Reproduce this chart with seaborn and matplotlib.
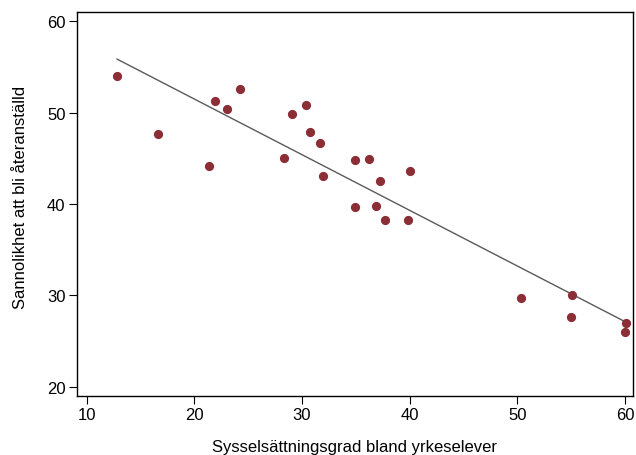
import matplotlib
matplotlib.use("Agg")
import matplotlib.pyplot as plt
import seaborn as sns
import numpy as np
import pandas as pd

# values
sysselsattning = [12.8, 16.6, 21.4, 21.9, 23.0, 24.2, 28.3, 29.1, 30.4, 30.7,
                  31.7, 31.9, 34.9, 34.9, 36.2, 36.9, 37.2, 37.7, 39.8, 40.0,
                  50.3, 55.1, 55.0, 60.1, 60.0]
sannolikhet = [54.0, 47.7, 44.2, 51.3, 50.4, 52.6, 45.0, 49.8, 50.8, 47.9,
               46.7, 43.1, 44.8, 39.7, 44.9, 39.8, 42.5, 38.3, 38.2, 43.6,
               29.7, 30.0, 27.6, 27.0, 26.0]

x_ticks = [10, 20, 30, 40, 50, 60]
y_ticks = [20, 30, 40, 50, 60]

df = pd.DataFrame({'x': sysselsattning, 'y': sannolikhet})

sns.set_style('white')
plt.rcParams['font.family'] = ['Liberation Sans', 'DejaVu Sans']
plt.rcParams['text.color'] = 'black'
plt.rcParams['axes.labelcolor'] = 'black'
plt.rcParams['xtick.color'] = 'black'
plt.rcParams['ytick.color'] = 'black'

fig = plt.figure(figsize=(6.36, 4.56), dpi=100)
ax = fig.add_axes([0.1206, 0.1294, 0.8747, 0.8427])

sns.regplot(data=df, x='x', y='y', ci=None, ax=ax,
            scatter_kws={'color': '#8B2E36', 's': 44, 'alpha': 1, 'linewidths': 0, 'zorder': 3},
            line_kws={'color': '#5a5a5a', 'linewidth': 1.0, 'zorder': 2})

ax.set_xlim(9.07, 60.74)
ax.set_ylim(18.98, 61.05)
ax.set_xticks(x_ticks)
ax.set_yticks(y_ticks)
ax.tick_params(axis='both', direction='out', length=6, width=0.8,
               labelsize=12, left=True, bottom=True, pad=2)
for s in ax.spines.values():
    s.set_color('black')
    s.set_linewidth(1.0)

ax.set_xlabel('Sysselsättningsgrad bland yrkeselever', fontsize=12, labelpad=12)
ax.set_ylabel('Sannolikhet att bli återanställd', fontsize=12, labelpad=14)
ax.yaxis.label.set_y(0.52)

fig.savefig('out.png', dpi=100)
plt.close(fig)
